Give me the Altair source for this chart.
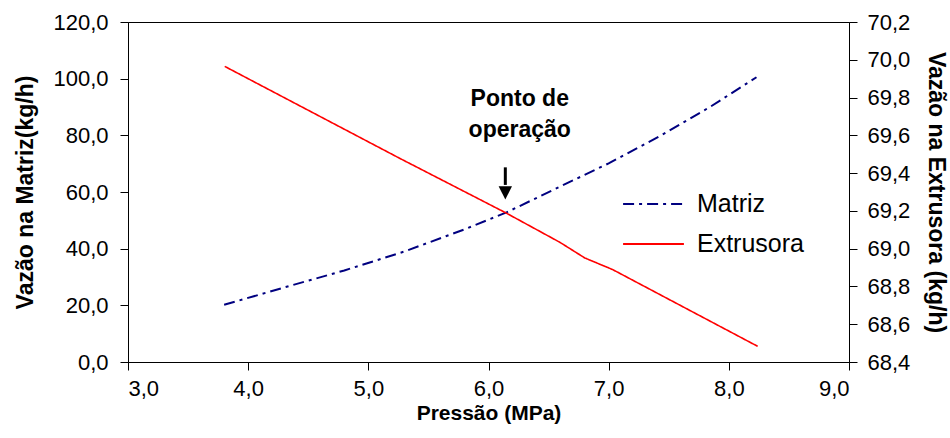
import altair as alt
import pandas as pd

# ---- data ----
pressao_matriz = [3.80, 4.30, 4.80, 5.30, 5.80, 6.15, 6.60, 7.00, 7.45, 7.85, 8.23]
vazao_matriz = [20.2, 26.3, 32.3, 39.0, 46.8, 52.8, 62.0, 70.1, 80.3, 90.2, 100.5]

pressao_extr = [3.805, 5.256, 6.143, 6.593, 6.801, 7.034, 8.24]
vazao_extr = [69.965, 69.48, 69.19, 69.034, 68.951, 68.889, 68.483]

series_names = ["Matriz", "Extrusora"]
series_colors = ["#000080", "#FF0000"]

ann_lines = ["Ponto de", "operação"]
ann_p = [6.26, 6.26]
ann_v = [93.0, 82.0]

arrow_p = [6.14]
arrow_top = [68.7]
arrow_shaft_end = [62.5]
arrow_head = [59.7]

x_ticks = [3, 4, 5, 6, 7, 8, 9]
yl_ticks = [0, 20, 40, 60, 80, 100, 120]
yr_ticks = [68.4, 68.6, 68.8, 69.0, 69.2, 69.4, 69.6, 69.8, 70.0, 70.2]

FONT = "Liberation Sans"
fmt = "replace(format(datum.value, '.1f'), '.', ',')"

df_m = pd.DataFrame({"p": pressao_matriz, "v": vazao_matriz, "s": "Matriz"})
df_e = pd.DataFrame({"p": pressao_extr, "r": vazao_extr, "s": "Extrusora"})
df_ann = pd.DataFrame({"p": ann_p, "v": ann_v, "t": ann_lines})
df_arrow = pd.DataFrame({"p": arrow_p, "v": arrow_top, "v2": arrow_shaft_end})
df_head = pd.DataFrame({"p": arrow_p, "v": arrow_head})

x_enc = alt.X(
    "p:Q",
    scale=alt.Scale(domain=[3, 9], nice=False, zero=False),
    axis=alt.Axis(
        values=x_ticks, labelExpr=fmt, title="Pressão (MPa)", grid=False,
        tickSize=8, labelPadding=8, titlePadding=3, titleFontSize=21,
    ),
)

yl_enc = alt.Y(
    "v:Q",
    scale=alt.Scale(domain=[0, 120], nice=False, zero=False),
    axis=alt.Axis(
        values=yl_ticks, labelExpr=fmt, title="Vazão na Matriz(kg/h)", grid=False,
        orient="left", tickSize=8, labelPadding=12, titlePadding=15, titleFontSize=23,
    ),
)

leg = alt.Legend(
    title=None, orient="none", legendX=494, legendY=163,
    symbolType="stroke", symbolSize=3700, symbolStrokeWidth=2,
    labelFontSize=25, labelFont=FONT, labelColor="black",
    clipHeight=38, rowPadding=2, labelOffset=12,
)
color_enc = alt.Color("s:N", scale=alt.Scale(domain=series_names, range=series_colors), legend=leg)
dash_enc = alt.StrokeDash(
    "s:N", scale=alt.Scale(domain=series_names, range=[[11, 5, 3, 5], [1, 0]]), legend=leg
)

matriz = alt.Chart(df_m).mark_line(strokeWidth=2).encode(
    x=x_enc, y=yl_enc, color=color_enc, strokeDash=dash_enc
)

ann = alt.Chart(df_ann).mark_text(
    font=FONT, fontSize=23, fontWeight="bold", color="black", baseline="middle", align="center"
).encode(x=x_enc, y=yl_enc, text="t:N")

shaft = alt.Chart(df_arrow).mark_rule(strokeWidth=3, color="black").encode(
    x=x_enc, y=yl_enc, y2="v2:Q"
)

head = alt.Chart(df_head).mark_point(
    shape="M-1,-1L1,-1L0,1Z", filled=True, color="black", opacity=1, size=180, strokeWidth=0
).encode(x=x_enc, y=yl_enc)

left = alt.layer(matriz, ann, shaft, head)

extr = alt.Chart(df_e).mark_line(strokeWidth=1.6).encode(
    x=x_enc,
    y=alt.Y(
        "r:Q",
        scale=alt.Scale(domain=[68.4, 70.2], nice=False, zero=False),
        axis=alt.Axis(
            values=yr_ticks, labelExpr=fmt, title="Vazão na Extrusora (kg/h)", grid=False,
            orient="right", tickSize=8, labelPadding=10, titlePadding=14, titleFontSize=23,
        ),
    ),
    color=color_enc,
    strokeDash=dash_enc,
)

chart = (
    alt.layer(left, extr)
    .resolve_scale(y="independent")
    .properties(
        width=721,
        height=340,
        autosize=alt.AutoSizeParams(type="none"),
        padding={"left": 128, "top": 22, "right": 101, "bottom": 76},
        background="white",
    )
    .configure_view(stroke="black", strokeWidth=1)
    .configure_axis(
        labelFont=FONT, labelFontSize=22, labelColor="black",
        titleFont=FONT, titleFontWeight="bold", titleColor="black",
        domainColor="black", tickColor="black", domainWidth=1, tickWidth=1,
    )
)

chart.save("out.html", embed_options={"renderer": "svg", "actions": False})
